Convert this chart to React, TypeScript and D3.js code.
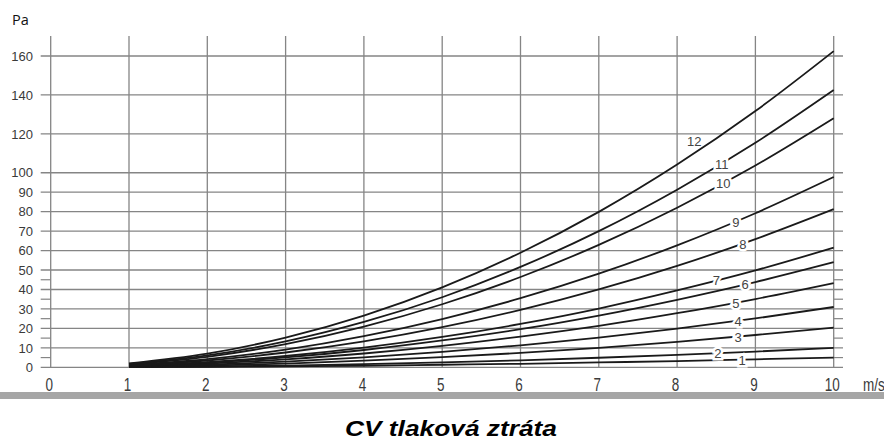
import * as d3 from 'd3';
import React, { useEffect } from 'react';

// velocity (m/s) at which each curve is read
const speeds = [1, 2, 3, 4, 5, 6, 7, 8, 9, 10];

// pressure loss (Pa)
const curve1 = [0.1, 0.2, 0.5, 0.8, 1.3, 1.8, 2.5, 3.2, 4.1, 5];
const curve2 = [0.2, 0.4, 0.9, 1.6, 2.5, 3.6, 4.9, 6.4, 8.1, 10];
const curve3 = [0.3, 0.9, 1.9, 3.4, 5.2, 7.4, 10, 13.1, 16.6, 20.4];
const curve4 = [0.4, 1.3, 2.9, 5.1, 7.9, 11.3, 15.3, 19.9, 25.1, 31];
const curve5 = [0.6, 1.9, 4.1, 7.1, 11, 15.8, 21.3, 27.8, 35.1, 43.3];
const curve6 = [0.7, 2.4, 5.1, 8.9, 13.8, 19.6, 26.6, 34.7, 43.8, 54];
const curve7 = [0.8, 2.7, 5.8, 10.1, 15.6, 22.3, 30.2, 39.5, 49.8, 61.5];
const curve8 = [1.0, 3.5, 7.6, 13.3, 20.6, 29.5, 40, 52.1, 65.9, 81.3];
const curve9 = [1.2, 4.2, 9.1, 16, 24.8, 35.5, 48.1, 62.7, 79.2, 97.8];
const curve10 = [1.5, 5.4, 11.9, 20.9, 32.4, 46.4, 62.9, 82, 103.7, 128];
const curve11 = [1.7, 6.1, 13.3, 23.3, 36, 51.6, 70, 91.3, 115.4, 142.5];
const curve12 = [2.0, 7.0, 15.3, 26.6, 41.1, 58.9, 79.9, 104.2, 131.7, 162.5];

const curves = [curve1, curve2, curve3, curve4, curve5, curve6, curve7, curve8, curve9, curve10, curve11, curve12];
const curveNames = ['1', '2', '3', '4', '5', '6', '7', '8', '9', '10', '11', '12'];

// where each number sits: [m/s, Pa]
const labelPos: [number, number][] = [
  [8.83, 3.8], [8.52, 7.3], [8.78, 15.6], [8.78, 23.8], [8.75, 33.0], [8.87, 42.8],
  [8.5, 44.9], [8.84, 63.4], [8.75, 74.7], [8.59, 94.7], [8.57, 104.5], [8.22, 116],
];

const xTicks = [0, 1, 2, 3, 4, 5, 6, 7, 8, 9, 10];
const yTicks = [0, 10, 20, 30, 40, 50, 60, 70, 80, 90, 100, 120, 140, 160];
const yMinor = [5, 15, 25, 35, 45];

export default function App() {
  const ref = React.useRef<SVGSVGElement>(null);

  useEffect(() => {
    if (!ref.current) return;
    const svg = d3.select(ref.current);
    svg.selectAll('*').remove();

    const x = d3.scaleLinear().domain([0, 10]).range([50.7, 833.7]);
    const y = d3.scaleLinear().domain([0, 160]).range([367.3, 56]);
    const grid = '#858585';
    const font = 'Liberation Sans, Arial, sans-serif';

    // vertical grid
    svg.append('g')
      .selectAll('line')
      .data(xTicks)
      .enter()
      .append('line')
      .attr('x1', d => x(d))
      .attr('x2', d => x(d))
      .attr('y1', 36)
      .attr('y2', y(0))
      .attr('stroke', grid)
      .attr('stroke-width', 1.3);

    // horizontal grid
    svg.append('g')
      .selectAll('line')
      .data(yTicks)
      .enter()
      .append('line')
      .attr('x1', x(0) - 10)
      .attr('x2', x(10) + 9.3)
      .attr('y1', d => y(d))
      .attr('y2', d => y(d))
      .attr('stroke', grid)
      .attr('stroke-width', 1.3);

    // minor ticks on both sides
    const minor = svg.append('g');
    minor.selectAll('.ml')
      .data(yMinor)
      .enter()
      .append('line')
      .attr('x1', x(0) - 10)
      .attr('x2', x(0))
      .attr('y1', d => y(d))
      .attr('y2', d => y(d))
      .attr('stroke', grid)
      .attr('stroke-width', 1.2);
    minor.selectAll('.mr')
      .data(yMinor)
      .enter()
      .append('line')
      .attr('x1', x(10))
      .attr('x2', x(10) + 9.3)
      .attr('y1', d => y(d))
      .attr('y2', d => y(d))
      .attr('stroke', grid)
      .attr('stroke-width', 1.2);

    // y labels
    svg.append('g')
      .selectAll('text')
      .data(yTicks)
      .enter()
      .append('text')
      .attr('x', 33)
      .attr('y', d => y(d))
      .attr('dy', '0.36em')
      .attr('text-anchor', 'end')
      .attr('font-family', font)
      .attr('font-size', 13)
      .attr('fill', '#3a3a3a')
      .text(d => d);

    // x labels (stretched vertically like the scan)
    svg.append('g')
      .selectAll('text')
      .data(xTicks)
      .enter()
      .append('text')
      .attr('transform', d => `translate(${x(d) - 1.5},391) scale(1,1.3)`)
      .attr('text-anchor', 'middle')
      .attr('font-family', font)
      .attr('font-size', 13.5)
      .attr('fill', '#3a3a3a')
      .text(d => d);

    svg.append('text')
      .attr('transform', 'translate(863,391) scale(1,1.3)')
      .attr('font-family', font)
      .attr('font-size', 13.5)
      .attr('fill', '#3a3a3a')
      .text('m/s');

    svg.append('text')
      .attr('x', 12)
      .attr('y', 25)
      .attr('font-family', 'Open Sans, Liberation Sans, sans-serif')
      .attr('font-size', 14.5)
      .attr('fill', '#111')
      .text('Pa');

    // curves
    const line = d3
      .line<number>()
      .x((d, i) => x(speeds[i]))
      .y(d => y(d))
      .curve(d3.curveMonotoneX);

    svg.append('g')
      .selectAll('path')
      .data(curves)
      .enter()
      .append('path')
      .attr('d', d => line(d))
      .attr('fill', 'none')
      .attr('stroke', '#1a1a1a')
      .attr('stroke-width', 1.8);

    // curve numbers with white gap (12 sits above its curve, no gap)
    svg.append('g')
      .selectAll('text')
      .data(labelPos)
      .enter()
      .append('text')
      .attr('x', d => x(d[0]))
      .attr('y', d => y(d[1]))
      .attr('dy', '0.36em')
      .attr('text-anchor', 'middle')
      .attr('font-family', font)
      .attr('font-size', 13)
      .attr('fill', '#444')
      .attr('stroke', '#fff')
      .attr('stroke-width', (d, i) => (i === 11 ? 0 : 5))
      .attr('paint-order', 'stroke')
      .text((d, i) => curveNames[i]);

    // gray band
    svg.append('rect')
      .attr('x', 0)
      .attr('y', 392)
      .attr('width', 884)
      .attr('height', 7)
      .attr('fill', '#a6a6a6');

    svg.append('text')
      .attr('x', 451)
      .attr('y', 436)
      .attr('text-anchor', 'middle')
      .attr('font-family', font)
      .attr('font-size', 21.5)
      .attr('font-weight', 'bold')
      .attr('font-style', 'italic')
      .attr('textLength', 212)
      .attr('lengthAdjust', 'spacingAndGlyphs')
      .attr('fill', '#000')
      .text('CV tlaková ztráta');
  }, []);

  return (
    <svg
      ref={ref}
      width={884}
      height={441}
      style={{ position: 'absolute', left: 0, top: 0, background: '#fff' }}
    />
  );
}
